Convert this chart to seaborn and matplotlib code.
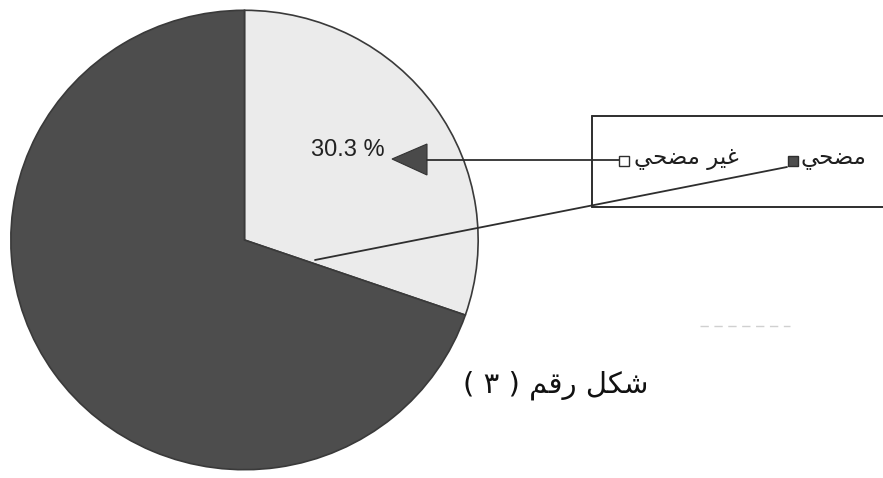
import matplotlib
matplotlib.use('Agg')
import matplotlib.pyplot as plt
import seaborn as sns
from matplotlib.patches import Polygon, Rectangle

# ---- data ----
categories = ['غير مضحي', 'مضحي']
values = [30.3, 69.7]
slice_colors = ['#ebebeb', '#4d4d4d']
figure_caption = 'شكل رقم ( ٣ )'

# ---- simple Arabic shaping (presentation forms) + RTL ordering ----
FORMS = {
    'م': ('\uFEE1', '\uFEE2', '\uFEE3', '\uFEE4'),
    'ض': ('\uFEBD', '\uFEBE', '\uFEBF', '\uFEC0'),
    'ح': ('\uFEA1', '\uFEA2', '\uFEA3', '\uFEA4'),
    'ي': ('\uFEF1', '\uFEF2', '\uFEF3', '\uFEF4'),
    'غ': ('\uFECD', '\uFECE', '\uFECF', '\uFED0'),
    'ر': ('\uFEAD', '\uFEAE', None, None),
    'ش': ('\uFEB5', '\uFEB6', '\uFEB7', '\uFEB8'),
    'ك': ('\uFED9', '\uFEDA', '\uFEDB', '\uFEDC'),
    'ل': ('\uFEDD', '\uFEDE', '\uFEDF', '\uFEE0'),
    'ق': ('\uFED5', '\uFED6', '\uFED7', '\uFED8'),
}


def joins_left(c):
    return c in FORMS and FORMS[c][2] is not None


def shape_rtl(text):
    out = []
    for i, c in enumerate(text):
        if c not in FORMS:
            out.append(c)
            continue
        prev = text[i - 1] if i > 0 else ''
        nxt = text[i + 1] if i + 1 < len(text) else ''
        cp = joins_left(prev)
        cn = joins_left(c) and nxt in FORMS
        iso, fin, ini, med = FORMS[c]
        if cp and cn:
            out.append(med)
        elif cp:
            out.append(fin)
        elif cn:
            out.append(ini)
        else:
            out.append(iso)
    mirror = {'(': ')', ')': '('}
    return ''.join(mirror.get(c, c) for c in reversed(out))


sns.set_theme(style='white')
plt.rcParams['font.family'] = ['DejaVu Sans']

W, H = 883, 478
fig = plt.figure(figsize=(W / 100, H / 100), dpi=100)
fig.patch.set_facecolor('white')

# pie axes (slightly elliptical like the scanned reference)
cx, cy, rx, ry = 244.5, 240, 236, 232
ax = fig.add_axes([(cx - rx) / W, (H - cy - ry) / H, 2 * rx / W, 2 * ry / H])
wedges, _ = ax.pie(values, colors=slice_colors, startangle=90, counterclock=False,
                   radius=1.0, wedgeprops=dict(edgecolor='#3a3a3a', linewidth=1.2))
ax.set_aspect('auto')
ax.set_xlim(-1.01, 1.01)
ax.set_ylim(-1.01, 1.01)
ax.axis('off')

# overlay in pixel coordinates for legend / annotations
ov = fig.add_axes([0, 0, 1, 1], facecolor='none')
ov.set_xlim(0, W)
ov.set_ylim(H, 0)
ov.axis('off')

line_c = '#2e2e2e'
# legend frame (open on the right, extends past the figure edge)
ov.plot([592, W + 5], [116, 116], color=line_c, lw=1.4)
ov.plot([592, W + 5], [207, 207], color=line_c, lw=1.4)
ov.plot([592, 592], [116, 207], color=line_c, lw=1.4)

# legend markers
ov.add_patch(Rectangle((619, 156), 10, 10, facecolor='white', edgecolor=line_c, lw=1.0))
ov.add_patch(Rectangle((788, 156), 10, 10, facecolor=slice_colors[1], edgecolor=line_c, lw=1.0))
ov.text(634, 159, shape_rtl(categories[0]), fontsize=16.5, color='#1e1e1e',
        ha='left', va='center')
ov.text(801, 159, shape_rtl(categories[1]), fontsize=16.5, color='#1e1e1e',
        ha='left', va='center')

# arrow from legend to the percentage label
ov.plot([427, 619], [160, 160], color=line_c, lw=1.3)
ov.add_patch(Polygon([[392, 159], [427, 144], [427, 175]], closed=True,
                     facecolor='#4a4a4a', edgecolor='#333333', lw=0.8))
ov.text(348, 150, f'{values[0]} %', fontsize=17, color='#222222',
        family=['Liberation Sans', 'DejaVu Sans'], ha='center', va='center')

# leader line from dark legend entry to the dark slice
ov.plot([787, 315], [167, 260], color=line_c, lw=1.3)

# faint scan artefact
ov.plot([700, 790], [326, 326], color='#d0d0d0', lw=1.0, ls=(0, (6, 4)))

# caption
ov.text(556, 385, shape_rtl(figure_caption), fontsize=21, color='#111111',
        ha='center', va='center')

fig.savefig('out.png', dpi=100, facecolor='white')
